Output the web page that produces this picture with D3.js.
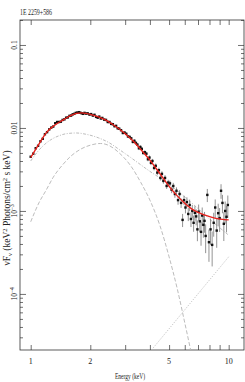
<!DOCTYPE html>
<html>
<head>
<meta charset="utf-8">
<script src="https://cdn.jsdelivr.net/npm/d3@7"></script>
<style>
  html, body { margin: 0; padding: 0; background: #fff; }
  svg { display: block; }
  text { font-family: "Liberation Serif", "DejaVu Serif", serif; fill: #222; }
</style>
</head>
<body>
<svg id="chart" width="245" height="382"></svg>
<script>
// ── Data ──────────────────────────────────────────────────────────────────────
const title = '1E 2259+586';
const xTickLabels = [1, 2, 5, 10];
const yTickLabels = [
	{ v: 0.1,  txt: '0.1' },
	{ v: 0.01, txt: '0.01' },
	{ v: 1e-3, txt: '10', sup: '−3' },
	{ v: 1e-4, txt: '10', sup: '−4' }
];

// observed spectrum: energy (keV), nuFnu, fractional error
const obsEnergy = [
	1.00,1.03,1.06,1.09,1.12,1.15,1.18,1.21,1.24,1.27,1.30,1.33,1.36,1.39,1.42,1.45,1.48,1.51,1.54,1.57,
	1.60,1.63,1.66,1.69,1.72,1.75,1.78,1.81,1.84,1.87,1.90,1.94,1.98,2.02,2.06,2.10,2.14,2.18,2.22,2.26,
	2.30,2.35,2.40,2.45,2.50,2.55,2.60,2.65,2.70,2.75,2.80,2.86,2.92,2.98,
	3.04,3.10,3.16,3.22,3.28,3.34,3.40,3.46,3.52,3.58,3.64,3.70,3.77,3.84,3.91,3.98,4.05,4.12,4.20,4.28,
	4.36,4.44,4.52,4.60,4.68,4.77,4.86,4.95,
	5.05,5.15,5.25,5.35,5.45,5.55,5.65,5.75,5.85,5.95,6.05,6.15,6.25,6.35,6.45,6.55,6.65,6.75,6.85,6.95,
	7.05,7.15,7.25,7.35,7.45,7.55,7.65,7.80,7.95,8.10,8.25,8.40,8.55,8.70,8.85,9.00,9.15,9.30,9.45,9.60,
	9.75,9.90
];
const obsFlux = [
	0.0045,0.0049,0.0057,0.0061,0.0069,0.0074,0.0084,0.0089,0.0096,0.0101,0.0104,0.0114,0.0118,0.0118,0.0119,0.0125,0.0127,0.0133,0.0134,0.0140,
	0.0141,0.0146,0.0148,0.0152,0.0153,0.0155,0.0153,0.0150,0.0148,0.0152,0.0149,0.0150,0.0145,0.0147,0.0141,0.0144,0.0136,0.0133,0.0137,0.0130,
	0.0132,0.0126,0.0125,0.0118,0.0118,0.0112,0.0111,0.0105,0.0106,0.0099,0.0098,0.0094,0.0087,0.0088,
	0.0085,0.0079,0.0078,0.0075,0.0068,0.0070,0.0066,0.0063,0.0057,0.0059,0.0056,0.0050,0.0051,0.0049,0.0042,0.0044,0.0038,0.0040,0.0033,0.0035,
	0.0029,0.0031,0.0025,0.0028,0.0023,0.0025,0.0020,0.0022,
	0.00215,0.00180,0.00200,0.00160,0.00175,0.00135,0.00160,0.00125,0.00078,0.00135,0.00110,0.00128,0.00092,0.00118,0.00080,0.00100,0.00072,0.00095,0.00086,0.00060,
	0.00098,0.00075,0.00056,0.00088,0.00068,0.00076,0.00050,0.00156,0.00042,0.00060,0.00039,0.00072,0.00110,0.00058,0.00094,0.00082,0.00175,0.00125,0.00070,0.00100,
	0.00085,0.00118
];
const obsErr = [
	0.02,0.02,0.02,0.02,0.02,0.02,0.02,0.02,0.02,0.02,0.02,0.02,0.02,0.02,0.02,0.02,0.02,0.02,0.02,0.02,
	0.02,0.02,0.02,0.02,0.02,0.02,0.02,0.02,0.02,0.02,0.025,0.025,0.025,0.025,0.025,0.025,0.025,0.025,0.025,0.025,
	0.03,0.03,0.03,0.03,0.03,0.03,0.03,0.03,0.03,0.03,0.035,0.035,0.035,0.035,
	0.04,0.04,0.04,0.04,0.045,0.045,0.045,0.045,0.05,0.05,0.05,0.05,0.055,0.055,0.055,0.06,0.06,0.06,0.065,0.065,
	0.07,0.07,0.07,0.075,0.075,0.08,0.08,0.08,
	0.08,0.09,0.09,0.10,0.10,0.12,0.11,0.13,0.18,0.13,0.15,0.14,0.18,0.16,0.20,0.18,0.22,0.20,0.22,0.28,
	0.22,0.26,0.32,0.25,0.30,0.28,0.38,0.18,0.42,0.35,0.45,0.32,0.25,0.38,0.30,0.32,0.20,0.25,0.38,0.30,
	0.35,0.30
];

// total model (red)
const modelEnergy = [1.0,1.1,1.2,1.3,1.4,1.5,1.6,1.7,1.8,1.9,2.0,2.2,2.4,2.6,2.8,3.0,3.3,3.6,4.0,4.5,5.0,5.5,6.0,6.5,7.0,7.6,8.5,10.0];
const modelFlux   = [0.0044,0.0064,0.0088,0.0105,0.0118,0.0130,0.0142,0.0150,0.0152,0.0150,0.0146,0.0136,0.0124,0.0110,0.0097,0.0085,0.0069,0.0055,0.0041,0.0028,0.00198,0.00152,0.00124,0.00106,0.00096,0.00089,0.00082,0.00078];

// soft power-law component (dash-dot)
const plEnergy = [1.0,1.1,1.2,1.3,1.4,1.5,1.7,1.9,2.2,2.5,2.8,3.2,4.0,5.0,6.5,8.0,10.0];
const plFlux   = [0.0040,0.0054,0.0066,0.0075,0.0081,0.0085,0.0087,0.0084,0.0076,0.0066,0.0055,0.0044,0.0030,0.0021,0.00125,0.00080,0.00051];

// blackbody component (dashed)
const bbEnergy = [1.0,1.1,1.2,1.3,1.45,1.6,1.8,2.0,2.25,2.5,2.8,3.2,3.6,4.0,4.5,5.0,5.5,6.0,6.5];
const bbFlux   = [0.00074,0.00125,0.00180,0.00255,0.0036,0.0046,0.0056,0.0062,0.0065,0.0061,0.0050,0.0035,0.0022,0.00135,0.00066,0.00028,0.000115,0.000045,0.0000185];

// hard tail (dotted)
const hardEnergy = [4.0, 10.0];
const hardFlux   = [0.000020, 0.00028];

// ── Layout ────────────────────────────────────────────────────────────────────
const L = 20, R = 244, T = 20, B = 350;
const svg = d3.select('#chart');

const x = d3.scaleLog().domain([0.883, 11.95]).range([L, R]);
const y = d3.scaleLog().domain([2.11e-5, 0.2]).range([B, T]);

svg.append('clipPath').attr('id', 'clip')
	.append('rect').attr('x', L).attr('y', T).attr('width', R - L).attr('height', B - T);

// ── Axes (ticks pointing inward) ──────────────────────────────────────────────
const xTicks = [1,2,3,4,5,6,7,8,9,10];
const yMinor = [];
for (let e = -5; e <= -1; e++) for (let m = 1; m <= 9; m++) {
	const v = m * Math.pow(10, e);
	if (v >= 2.11e-5 && v <= 0.2) yMinor.push(v);
}

function styleAxis(g) {
	g.select('.domain').remove();
	g.selectAll('.tick line').attr('stroke', '#333').attr('stroke-width', 0.7);
	g.selectAll('.tick text').remove();
}

svg.append('g').attr('transform', `translate(0,${B})`)
	.call(d3.axisBottom(x).tickValues(xTicks).tickSize(-5)).call(styleAxis);
svg.append('g').attr('transform', `translate(0,${T})`)
	.call(d3.axisTop(x).tickValues(xTicks).tickSize(-5)).call(styleAxis);

const leftAx = svg.append('g').attr('transform', `translate(${L},0)`)
	.call(d3.axisLeft(y).tickValues(yMinor).tickSize(-3)).call(styleAxis);
const rightAx = svg.append('g').attr('transform', `translate(${R},0)`)
	.call(d3.axisRight(y).tickValues(yMinor).tickSize(-3)).call(styleAxis);
// major decades get longer ticks
[leftAx, rightAx].forEach((g, i) => {
	g.selectAll('.tick').filter(d => Math.abs(Math.log10(d) - Math.round(Math.log10(d))) < 1e-6)
		.select('line').attr('x2', i === 0 ? 6 : -6);
});

svg.append('rect')
	.attr('x', L).attr('y', T).attr('width', R - L).attr('height', B - T)
	.attr('fill', 'none').attr('stroke', '#333').attr('stroke-width', 0.8);

// tick labels
svg.append('g').selectAll('text').data(xTickLabels).join('text')
	.attr('x', d => x(d)).attr('y', 364)
	.attr('text-anchor', 'middle').attr('font-size', 8)
	.text(d => d);

const yl = svg.append('g').selectAll('text').data(yTickLabels).join('text')
	.attr('transform', d => `translate(17,${y(d.v)}) rotate(-90)`)
	.attr('text-anchor', 'middle').attr('font-size', 7.5);
yl.append('tspan').text(d => d.txt);
yl.filter(d => d.sup).append('tspan').attr('dy', -3).attr('font-size', 5.5).text(d => d.sup);

// axis titles
svg.append('text')
	.attr('x', 130).attr('y', 379).attr('text-anchor', 'middle')
	.attr('font-size', 8).attr('textLength', 30).attr('lengthAdjust', 'spacingAndGlyphs')
	.text('Energy (keV)');

const ylab = svg.append('text')
	.attr('transform', 'translate(10,208) rotate(-90)')
	.attr('text-anchor', 'middle').attr('font-size', 9.5);
ylab.append('tspan').text('νF');
ylab.append('tspan').attr('dy', 2).attr('font-size', 6.5).text('ν');
ylab.append('tspan').attr('dy', -2).text(' (keV');
ylab.append('tspan').attr('dy', -3).attr('font-size', 6.5).text('2');
ylab.append('tspan').attr('dy', 3).text(' Photons/cm');
ylab.append('tspan').attr('dy', -3).attr('font-size', 6.5).text('2');
ylab.append('tspan').attr('dy', 3).text(' s keV)');

svg.append('text')
	.attr('x', 20).attr('y', 15)
	.attr('font-size', 8.5).attr('textLength', 32).attr('lengthAdjust', 'spacingAndGlyphs')
	.text(title);

// ── Plot contents ─────────────────────────────────────────────────────────────
const plot = svg.append('g').attr('clip-path', 'url(#clip)');
const line = d3.line().x(d => x(d[0])).y(d => y(d[1])).curve(d3.curveMonotoneX);
const pairs = (es, vs) => es.map((e, i) => [e, vs[i]]);

plot.append('path').datum(pairs(plEnergy, plFlux))
	.attr('d', line).attr('fill', 'none')
	.attr('stroke', '#b4b4b4').attr('stroke-width', 0.9).attr('stroke-dasharray', '3,1.5,1,1.5');
plot.append('path').datum(pairs(bbEnergy, bbFlux))
	.attr('d', line).attr('fill', 'none')
	.attr('stroke', '#b4b4b4').attr('stroke-width', 0.9).attr('stroke-dasharray', '4,2');
plot.append('path').datum(pairs(hardEnergy, hardFlux))
	.attr('d', line).attr('fill', 'none')
	.attr('stroke', '#b4b4b4').attr('stroke-width', 0.9).attr('stroke-dasharray', '1,1.5');

const obs = obsEnergy.map((e, i) => ({ e, v: obsFlux[i], f: obsErr[i] }));

plot.append('g').selectAll('line').data(obs).join('line')
	.attr('x1', d => x(d.e)).attr('x2', d => x(d.e))
	.attr('y1', d => y(d.v * (1 + d.f))).attr('y2', d => y(d.v * (1 - d.f)))
	.attr('stroke', '#777').attr('stroke-width', 0.8);

plot.append('g').selectAll('rect').data(obs).join('rect')
	.attr('x', d => x(d.e) - 1.2).attr('y', d => y(d.v) - 1.2)
	.attr('width', 2.4).attr('height', 2.4).attr('fill', '#111');

plot.append('path').datum(pairs(modelEnergy, modelFlux))
	.attr('d', line).attr('fill', 'none')
	.attr('stroke', '#e8211c').attr('stroke-width', 1.4);
</script>
</body>
</html>
